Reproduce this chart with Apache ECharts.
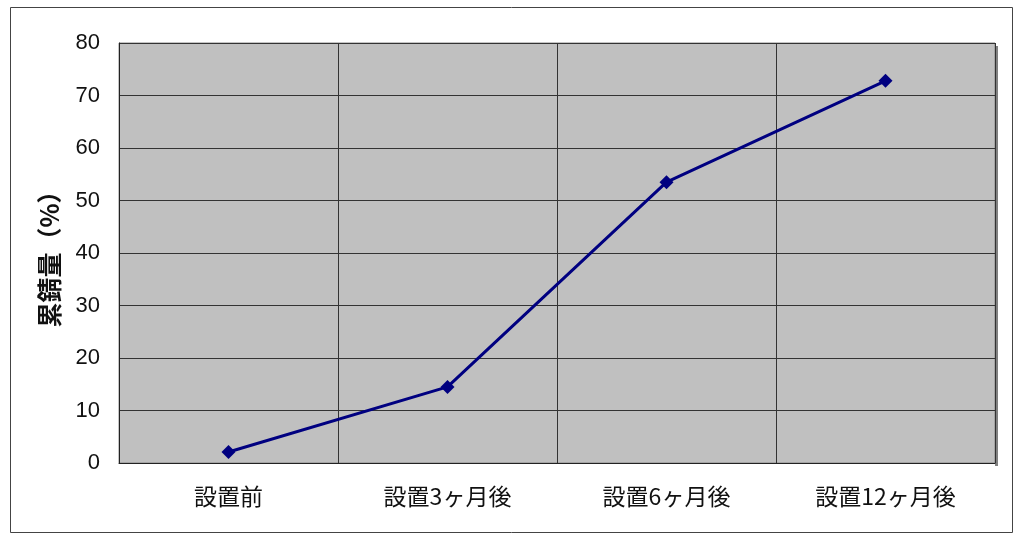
<!DOCTYPE html>
<html>
<head>
<meta charset="utf-8">
<script src="https://cdn.jsdelivr.net/npm/echarts@6/dist/echarts.min.js"></script>
<style>
html,body{margin:0;padding:0;background:#fff;}
#c{width:1024px;height:541px;}
</style>
</head>
<body>
<div id="c"></div>
<script>
var categories = ['設置前', '設置3ヶ月後', '設置6ヶ月後', '設置12ヶ月後'];
var values = [2.1, 14.5, 53.5, 72.8];
var yTicks = [0, 10, 20, 30, 40, 50, 60, 70, 80];

var chart = echarts.init(document.getElementById('c'));
chart.setOption({
  animation: false,
  backgroundColor: '#ffffff',
  graphic: [
    { type: 'rect', shape: { x: 10.5, y: 7.5, width: 1002, height: 525 }, style: { fill: 'none', stroke: '#444', lineWidth: 1 }, z: -1 },
    { type: 'rect', shape: { x: 995, y: 46, width: 3, height: 420 }, style: { fill: '#808080' }, z: -1 }
  ],
  grid: { left: 119, right: 29, top: 43, bottom: 78, show: true, backgroundColor: '#c0c0c0', borderColor: '#888', borderWidth: 1 },
  xAxis: {
    type: 'category',
    data: categories,
    boundaryGap: true,
    axisLine: { show: true, lineStyle: { color: '#222', width: 1 } },
    axisTick: { show: false },
    axisLabel: { margin: 22, fontSize: 23, color: '#111', fontFamily: 'Noto Sans CJK JP' },
    splitLine: { show: true, lineStyle: { color: '#333', width: 1 } }
  },
  yAxis: {
    type: 'value',
    min: yTicks[0],
    max: yTicks[yTicks.length - 1],
    interval: 10,
    name: '累錆量（%）',
    nameLocation: 'middle',
    nameRotate: 90,
    nameGap: 57,
    nameTextStyle: { fontSize: 25, color: '#111', fontFamily: 'Noto Sans CJK JP', fontWeight: 'bold' },
    axisLine: { show: true, lineStyle: { color: '#222', width: 1 } },
    axisTick: { show: false },
    axisLabel: { margin: 19, fontSize: 22, color: '#111', fontFamily: 'Liberation Sans' },
    splitLine: { show: true, lineStyle: { color: '#333', width: 1 } }
  },
  series: [{
    type: 'line',
    data: values,
    symbol: 'diamond',
    symbolSize: 14,
    lineStyle: { color: '#000080', width: 3 },
    itemStyle: { color: '#000080' }
  }]
});
</script>
</body>
</html>
